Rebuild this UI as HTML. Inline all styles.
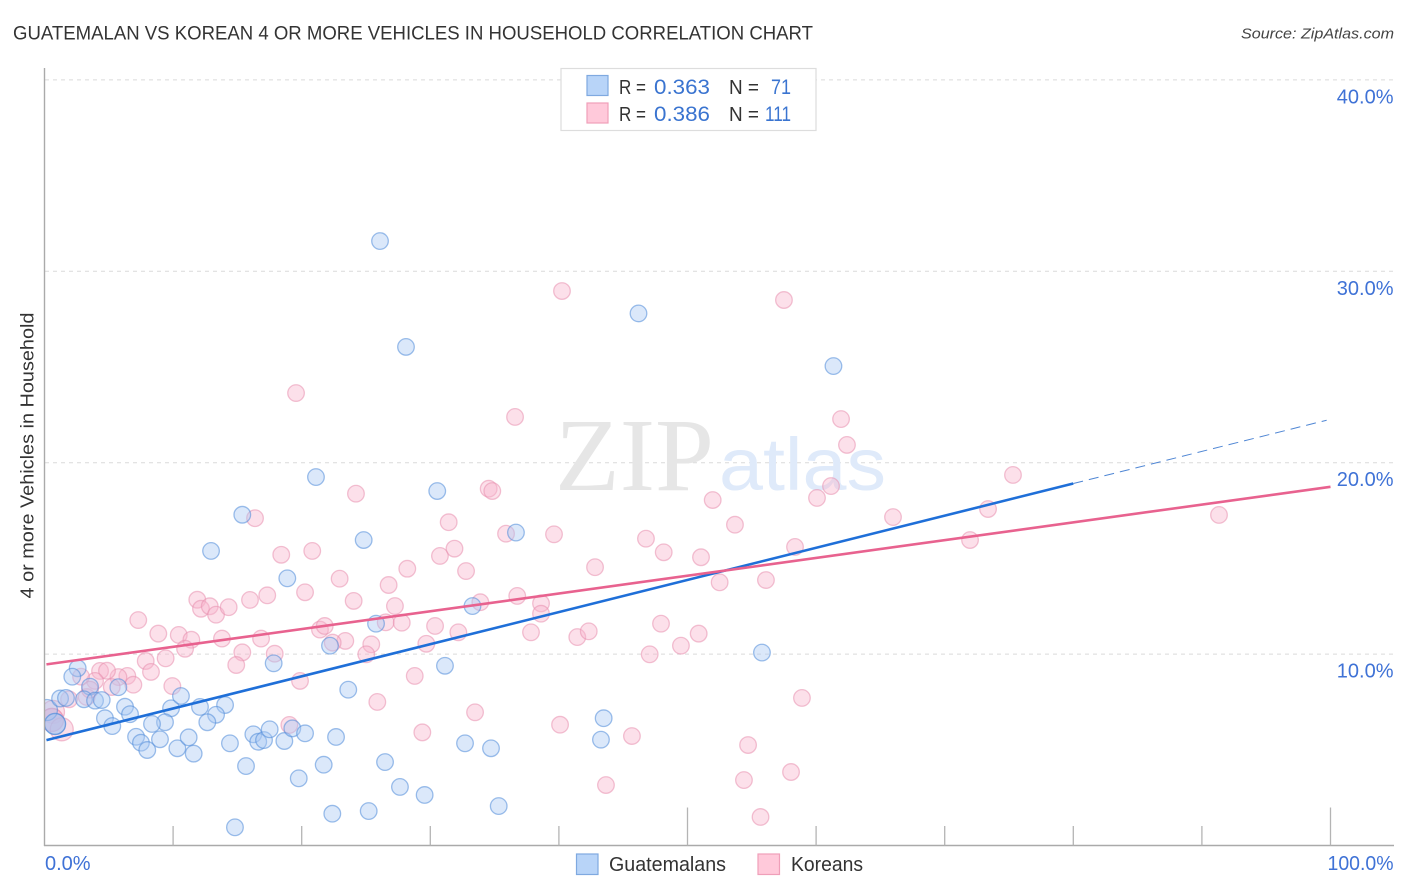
<!DOCTYPE html>
<html lang="en">
<head>
<meta charset="utf-8">
<title>Guatemalan vs Korean 4 or More Vehicles in Household Correlation Chart</title>
<style>
html,body{margin:0;padding:0;background:#fff;}
svg{display:block;font-family:"Liberation Sans",sans-serif;}
</style>
</head>
<body>
<svg id="chart" width="1406" height="892" viewBox="0 0 1406 892" xmlns="http://www.w3.org/2000/svg">
  <defs>
    <clipPath id="plot-clip"><rect x="45" y="60" width="1349" height="786"/></clipPath>
  </defs>
  <rect x="0" y="0" width="1406" height="892" fill="#ffffff"/>
  <text x="13" y="39.5" font-size="19" fill="#333333" textLength="800" lengthAdjust="spacingAndGlyphs">GUATEMALAN VS KOREAN 4 OR MORE VEHICLES IN HOUSEHOLD CORRELATION CHART</text>
  <text x="1394" y="38.5" font-size="15" font-style="italic" fill="#444444" text-anchor="end" textLength="153" lengthAdjust="spacingAndGlyphs">Source: ZipAtlas.com</text>
  <g id="grid"></g>
  <g>
    <text x="555" y="490" font-family="'Liberation Serif',serif" font-size="104" fill="#e6e6e6" textLength="159" lengthAdjust="spacingAndGlyphs">ZIP</text>
    <text x="719" y="490" font-size="74" fill="#dfeafa" textLength="167" lengthAdjust="spacingAndGlyphs">atlas</text>
  </g>
  <g id="points" clip-path="url(#plot-clip)"></g>
  <g id="trends"></g>
  <g id="axes"></g>
  <text transform="translate(33.5,455.5) rotate(-90)" font-size="18.5" fill="#333333" text-anchor="middle" textLength="286" lengthAdjust="spacingAndGlyphs">4 or more Vehicles in Household</text>

  <g>
    <rect x="561" y="68.5" width="255" height="62" fill="#ffffff" stroke="#dddddd" stroke-width="1.2"/>
    <rect x="587" y="75.5" width="21" height="20" fill="#b8d4f8" stroke="#7fa9e0" stroke-width="1.2"/>
    <rect x="587" y="103" width="21" height="20" fill="#ffc9da" stroke="#ef9fb9" stroke-width="1.2"/>
    <text x="619" y="94" font-size="20" fill="#333333" textLength="27" lengthAdjust="spacingAndGlyphs">R =</text>
    <text x="654" y="94" font-size="21" fill="#3a74d0" textLength="56" lengthAdjust="spacingAndGlyphs">0.363</text>
    <text x="729" y="94" font-size="20" fill="#333333" textLength="30" lengthAdjust="spacingAndGlyphs">N =</text>
    <text x="771" y="94" font-size="21" fill="#3a74d0" textLength="20" lengthAdjust="spacingAndGlyphs">71</text>
    <text x="619" y="121" font-size="20" fill="#333333" textLength="27" lengthAdjust="spacingAndGlyphs">R =</text>
    <text x="654" y="121" font-size="21" fill="#3a74d0" textLength="56" lengthAdjust="spacingAndGlyphs">0.386</text>
    <text x="729" y="121" font-size="20" fill="#333333" textLength="30" lengthAdjust="spacingAndGlyphs">N =</text>
    <text x="765" y="121" font-size="21" fill="#3a74d0" textLength="26" lengthAdjust="spacingAndGlyphs">111</text>
  </g>

  <g>
    <rect x="576.5" y="854" width="21.5" height="20.5" fill="#b8d4f8" stroke="#7fa9e0" stroke-width="1.2"/>
    <text x="609" y="871" font-size="20" fill="#333333" textLength="117" lengthAdjust="spacingAndGlyphs">Guatemalans</text>
    <rect x="758" y="854" width="21.5" height="20.5" fill="#ffc9da" stroke="#ef9fb9" stroke-width="1.2"/>
    <text x="791" y="871" font-size="20" fill="#333333" textLength="72" lengthAdjust="spacingAndGlyphs">Koreans</text>
  </g>
</svg>

<script>
const guatemalanX = [26.09,28.11,46.19,61.35,21.11,30.54,15.38,36.66,24.82,12.95,18.88,33.28,25.78,22.20,55.79,17.82,31.14,23.62,2.58,2.16,3.54,5.74,1.21,1.67,3.07,3.93,4.45,6.26,6.65,4.70,5.27,9.84,10.61,12.09,14.04,13.34,12.66,9.37,8.36,7.12,7.50,7.99,8.98,10.33,11.21,11.60,14.42,15.67,16.24,16.62,17.07,17.51,18.65,19.27,20.26,22.67,21.71,19.77,22.38,25.21,26.48,27.64,29.56,32.70,34.72,35.32,43.48,43.27,14.81];
const guatemalanY = [31.58,26.05,27.80,25.05,19.25,18.52,17.28,16.35,15.96,15.39,13.96,12.51,11.59,10.44,10.08,9.52,9.39,8.14,9.26,8.82,8.30,8.27,7.68,7.71,7.64,7.57,7.60,7.25,6.86,6.65,6.24,7.17,7.81,7.24,7.34,6.83,6.44,6.44,6.35,5.68,5.37,4.99,5.55,5.08,5.65,4.80,5.34,4.15,5.81,5.42,5.51,6.07,5.46,6.12,5.86,5.67,4.22,3.51,1.66,1.80,4.36,3.06,2.64,5.34,5.08,2.06,6.65,5.53,0.95];
const guatemalanLargeX = [0.82,0.19,0.82];
const guatemalanLargeY = [6.35,7.08,6.35];

const koreanX = [24.22,16.37,31.43,31.88,30.75,18.41,20.82,28.21,22.95,26.76,20.26,17.32,15.98,11.88,12.17,12.85,13.34,14.32,24.04,27.25,7.29,8.85,10.44,11.42,10.93,13.80,16.84,21.42,21.79,26.53,27.78,30.37,32.18,23.39,22.41,25.41,25.02,29.69,15.38,14.91,17.90,9.42,7.87,8.28,9.94,6.44,6.91,5.75,19.87,28.79,25.88,34.54,34.82,32.78,35.89,39.62,42.81,46.77,48.15,51.05,51.96,53.69,52.50,56.10,33.89,36.76,38.61,38.61,37.83,41.43,42.32,47.94,50.87,49.49,47.06,33.48,19.04,29.38,40.09,43.66,45.68,54.71,54.39,55.68,58.05,58.90,75.31,91.33,73.37,71.97,65.98,58.36,60.07,61.16,62.40,61.94,36.59,57.50,40.24,19.56,4.32,4.86,3.93,2.84,5.23,1.91,3.28,3.54];
const koreanY = [18.38,17.10,16.89,15.51,15.13,15.19,15.39,14.46,13.94,13.61,13.23,13.07,12.83,12.84,12.37,12.50,12.06,12.45,12.78,12.51,11.78,11.07,11.00,10.75,10.28,10.81,10.81,11.28,11.47,11.66,11.64,11.47,11.14,10.69,10.60,10.51,9.99,10.54,10.09,9.43,10.02,9.78,9.64,9.07,8.33,8.86,8.40,8.80,8.60,8.86,7.50,18.64,18.52,14.34,16.29,16.26,14.54,16.03,15.32,15.06,18.05,16.76,13.75,13.87,12.71,13.04,12.65,12.11,11.14,10.89,11.19,11.59,11.07,10.44,9.99,6.96,6.30,5.91,6.31,3.16,5.72,5.25,3.42,1.49,3.84,7.71,19.36,17.27,17.58,15.96,17.16,15.60,18.16,18.78,20.93,22.28,22.39,28.50,28.97,23.64,9.12,9.13,8.60,8.82,8.28,7.64,7.76,8.14];
const koreanLargeX = [0.66,0.58,0.58,1.34];
const koreanLargeY = [6.98,6.56,6.56,6.07];

const yTickValues = [10,20,30,40];
const yTickLabels = ['10.0%','20.0%','30.0%','40.0%'];
const xTickValues = [10,20,30,40,50,60,70,80,90,100];
const xMajorTicks = [50,100];
const xEndLabels = ['0.0%','100.0%'];

const guatemalanTrend = [5.48,0.1679];
const koreanTrend = [9.45,0.0929];
const guatemalanSolidEnd = 80;
const guatemalanDashEnd = 99.7;
const koreanEnd = 100;

const NS = 'http://www.w3.org/2000/svg';
function xScale(v){ return 44.5 + v * 12.86; }
function yScale(v){ return 845.5 - v * 19.14; }
function make(tag, parent, attrs){
  const el = document.createElementNS(NS, tag);
  for (const k in attrs) el.setAttribute(k, attrs[k]);
  parent.appendChild(el);
  return el;
}

const gridG = document.getElementById('grid');
yTickValues.forEach(function(v){
  const ln = make('line', gridG, {x1:45, x2:1394, y1:yScale(v), y2:yScale(v), stroke:'#dadada', 'stroke-width':1, 'stroke-dasharray':'4 4'});
  
  
});

const pointsG = document.getElementById('points');
function drawSeries(xs, ys, r, fill, stroke, name){
  xs.forEach(function(x, i){
    const c = make('circle', pointsG, {cx:xScale(x), cy:yScale(ys[i]), r:r, fill:fill, 'fill-opacity':0.42, stroke:stroke, 'stroke-opacity':0.55, 'stroke-width':1.3});
    
    
  });
}
drawSeries(koreanLargeX, koreanLargeY, 11.5, '#f7b3ca', '#e88fae', 'korean-point-large');
drawSeries(koreanX, koreanY, 8.3, '#f9b6cc', '#e88fae', 'korean-point');
drawSeries(guatemalanLargeX, guatemalanLargeY, 10.5, '#a4c6f2', '#4f8bd8', 'guatemalan-point-large');
drawSeries(guatemalanX, guatemalanY, 8.3, '#a9c9f2', '#4f8bd8', 'guatemalan-point');

const trendsG = document.getElementById('trends');
function trendY(t, x){ return t[0] + t[1] * x; }
const gSolid = make('line', trendsG, {x1:xScale(0.15), y1:yScale(trendY(guatemalanTrend,0.15)), x2:xScale(guatemalanSolidEnd), y2:yScale(trendY(guatemalanTrend,guatemalanSolidEnd)), stroke:'#1f6fd8', 'stroke-width':2.6});


const gDash = make('line', trendsG, {x1:xScale(guatemalanSolidEnd), y1:yScale(trendY(guatemalanTrend,guatemalanSolidEnd)), x2:xScale(guatemalanDashEnd), y2:yScale(trendY(guatemalanTrend,guatemalanDashEnd)), stroke:'#4f86d4', 'stroke-width':1, 'stroke-dasharray':'10 6'});


const kSolid = make('line', trendsG, {x1:xScale(0.15), y1:yScale(trendY(koreanTrend,0.15)), x2:xScale(koreanEnd), y2:yScale(trendY(koreanTrend,koreanEnd)), stroke:'#e8628f', 'stroke-width':2.6});



const axesG = document.getElementById('axes');
const yAxis = make('line', axesG, {x1:44.5, x2:44.5, y1:68, y2:846, stroke:'#aaaaaa', 'stroke-width':1.4});


const xAxis = make('line', axesG, {x1:44, x2:1394, y1:845.5, y2:845.5, stroke:'#aaaaaa', 'stroke-width':1.4});



xTickValues.forEach(function(v){
  const top = xMajorTicks.indexOf(v) >= 0 ? 807.5 : 826;
  const t = make('line', axesG, {x1:xScale(v), x2:xScale(v), y1:top, y2:845.5, stroke:'#b4b4b4', 'stroke-width':1.3});
  
  
});

yTickValues.forEach(function(v, i){
  const t = make('text', axesG, {x:1393.5, y:yScale(v)+23.5, 'font-size':20, fill:'#3f72d6', 'text-anchor':'end'});
  t.textContent = yTickLabels[i];
  
  
});

const x0Label = make('text', axesG, {x:45, y:870, 'font-size':20, fill:'#3f72d6'});
x0Label.textContent = xEndLabels[0];


const x1Label = make('text', axesG, {x:1393.5, y:870, 'font-size':20, fill:'#3f72d6', 'text-anchor':'end', textLength:66, lengthAdjust:'spacingAndGlyphs'});
x1Label.textContent = xEndLabels[1];


</script>
</body>
</html>
